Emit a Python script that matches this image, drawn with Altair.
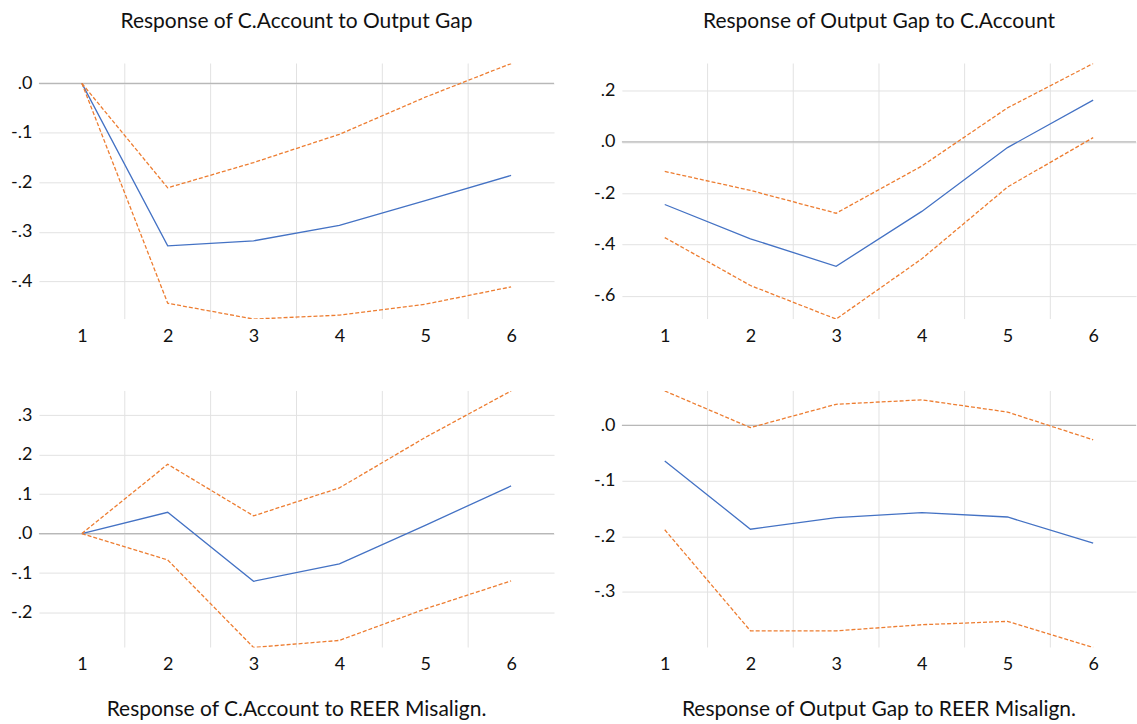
import altair as alt
import pandas as pd

# Forecast horizon (periods)
periods = [1, 2, 3, 4, 5, 6]

# Response of C.Account to Output Gap
ca_og_resp = [0.000, -0.328, -0.318, -0.287, -0.237, -0.186]
ca_og_lower = [0.000, -0.444, -0.476, -0.468, -0.446, -0.411]
ca_og_upper = [0.000, -0.211, -0.160, -0.103, -0.028, 0.040]

# Response of Output Gap to C.Account
og_ca_resp = [-0.244, -0.378, -0.485, -0.271, -0.022, 0.163]
og_ca_lower = [-0.373, -0.560, -0.691, -0.456, -0.176, 0.017]
og_ca_upper = [-0.115, -0.189, -0.278, -0.094, 0.133, 0.306]

# Response of C.Account to REER Misalign.
ca_reer_resp = [0.000, 0.054, -0.121, -0.077, 0.021, 0.121]
ca_reer_lower = [0.000, -0.067, -0.289, -0.271, -0.191, -0.120]
ca_reer_upper = [0.000, 0.176, 0.045, 0.116, 0.244, 0.362]

# Response of Output Gap to REER Misalign.
og_reer_resp = [-0.064, -0.187, -0.166, -0.157, -0.165, -0.212]
og_reer_lower = [-0.188, -0.370, -0.370, -0.359, -0.353, -0.400]
og_reer_upper = [0.062, -0.004, 0.038, 0.046, 0.024, -0.026]

# y-axis tick labels of each panel
ticks_ca_og = [-0.4, -0.3, -0.2, -0.1, 0.0]
ticks_og_ca = [-0.6, -0.4, -0.2, 0.0, 0.2]
ticks_ca_reer = [-0.2, -0.1, 0.0, 0.1, 0.2, 0.3]
ticks_og_reer = [-0.3, -0.2, -0.1, 0.0]

FONT = "Lato"
BLUE = "#4472C4"
ORANGE = "#ED7D31"
GRID = "#e2e2e2"
ZERO = "#b8b8b8"

# boundaries between periods, used for vertical gridlines
bounds = pd.DataFrame({"b": [p + 0.5 for p in periods[:-1]]})


def panel(title, resp, lower, upper, ticks, width, height, title_orient):
    df = pd.DataFrame({
        "period": periods * 3,
        "value": resp + lower + upper,
        "series": ["resp"] * 6 + ["lower"] * 6 + ["upper"] * 6,
    })
    lo = min(lower + resp + upper)
    hi = max(lower + resp + upper)

    xscale = alt.Scale(domain=[periods[0] - 0.5, periods[-1] + 0.5], nice=False, zero=False)
    x = alt.X(
        "period:Q",
        scale=xscale,
        axis=alt.Axis(
            values=periods, format="d", title=None, grid=False, domain=False,
            ticks=False, tickSize=0, labelPadding=8, labelFont=FONT,
            labelFontSize=18, labelColor="#111111", labelBaseline="top",
        ),
    )
    yscale = alt.Scale(domain=[lo, hi], nice=False, zero=False)
    y = alt.Y(
        "value:Q",
        scale=yscale,
        axis=alt.Axis(
            values=ticks, title=None, grid=True, gridColor=GRID, gridWidth=1,
            domain=False, ticks=False, tickSize=0, labelPadding=7,
            labelFont=FONT, labelFontSize=18, labelColor="#111111",
            labelExpr="replace(replace(format(datum.value, '.1f'), '\u2212', '-'), '0.', '.')",
            minExtent=39, maxExtent=39,
        ),
    )

    vgrid = alt.Chart(bounds).mark_rule(color=GRID, strokeWidth=1).encode(
        x=alt.X("b:Q", scale=xscale)
    )
    zero = alt.Chart(pd.DataFrame({"z": [0.0]})).mark_rule(color=ZERO, strokeWidth=1.2).encode(
        y=alt.Y("z:Q", scale=yscale)
    )
    base = alt.Chart(df).encode(x=x, y=y)
    resp_line = base.transform_filter("datum.series == 'resp'").mark_line(
        color=BLUE, strokeWidth=1.3, clip=True
    )
    lo_line = base.transform_filter("datum.series == 'lower'").mark_line(
        color=ORANGE, strokeWidth=1.3, strokeDash=[4, 2], clip=True
    )
    hi_line = base.transform_filter("datum.series == 'upper'").mark_line(
        color=ORANGE, strokeWidth=1.3, strokeDash=[4, 2], clip=True
    )
    return alt.layer(vgrid, zero, resp_line, lo_line, hi_line).properties(
        width=width,
        height=height,
        title=alt.TitleParams(
            title, orient=title_orient, font=FONT, fontSize=21, fontWeight="normal",
            color="#111111", offset=31 if title_orient == "top" else 26, anchor="middle",
        ),
    )


top = alt.hconcat(
    panel("Response of C.Account to Output Gap", ca_og_resp, ca_og_lower, ca_og_upper,
          ticks_ca_og, 516, 256, "top"),
    panel("Response of Output Gap to C.Account", og_ca_resp, og_ca_lower, og_ca_upper,
          ticks_og_ca, 515, 256, "top"),
    spacing=28,
)
bottom = alt.hconcat(
    panel("Response of C.Account to REER Misalign.", ca_reer_resp, ca_reer_lower, ca_reer_upper,
          ticks_ca_reer, 516, 257, "bottom"),
    panel("Response of Output Gap to REER Misalign.", og_reer_resp, og_reer_lower, og_reer_upper,
          ticks_og_reer, 515, 257, "bottom"),
    spacing=28,
)

chart = alt.vconcat(top, bottom, spacing=45).properties(
    padding={"left": 0, "top": 10, "right": 0, "bottom": 0},
    background="white",
).configure_view(stroke=None).configure_concat(spacing=28)

chart.save("out.html", embed_options={"renderer": "svg", "actions": False})
